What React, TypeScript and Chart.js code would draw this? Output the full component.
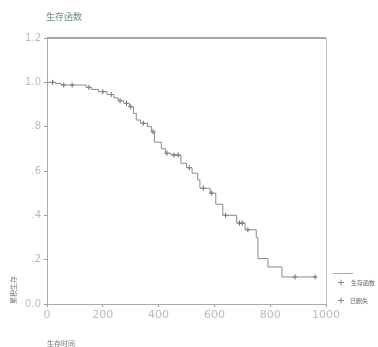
import React, { useEffect, useRef } from "react";
import { Chart, registerables } from "chart.js";

Chart.register(...registerables);

const eventTimes = [0, 30, 50, 140, 160, 185, 215, 240, 255, 275, 295, 310, 320, 335, 360, 375, 385, 410, 425, 445, 480, 500, 520, 540, 548, 585, 605, 630, 680, 710, 750, 756, 792, 842, 961];
const survival = [1.0, 0.995, 0.988, 0.977, 0.968, 0.958, 0.945, 0.93, 0.917, 0.905, 0.89, 0.86, 0.83, 0.815, 0.8, 0.777, 0.73, 0.7, 0.68, 0.672, 0.635, 0.615, 0.59, 0.56, 0.522, 0.5, 0.45, 0.4, 0.365, 0.335, 0.3, 0.205, 0.167, 0.122, 0.122];
const censorTimes = [20, 60, 90, 150, 200, 230, 262, 285, 300, 345, 380, 430, 455, 470, 510, 560, 590, 640, 690, 700, 720, 889, 961];

const yTickLabels: Record<string, string> = { "0": "0.0", "0.2": ".2", "0.4": ".4", "0.6": ".6", "0.8": ".8", "1": "1.0", "1.2": "1.2" };
const titleText = "生存函数";
const yTitle = "累积生存";
const xTitle = "生存时间";
const legendLine = "生存函数";
const legendCensor = "已删失";

function survAt(t: number): number {
  let s = survival[0];
  for (let i = 0; i < eventTimes.length; i++) {
    if (eventTimes[i] <= t) s = survival[i];
  }
  return s;
}

export default function App() {
  const ref = useRef<HTMLCanvasElement | null>(null);
  useEffect(() => {
    document.body.style.margin = "0";
    const ctx = ref.current!;
    const decor = {
      id: "decor",
      afterDraw(chart: any) {
        const c = chart.ctx;
        const a = chart.chartArea;
        c.save();
        c.strokeStyle = "#a8a8a8";
        c.lineWidth = 2;
        c.beginPath();
        c.moveTo(a.left, a.top);
        c.lineTo(a.right, a.top);
        c.stroke();
        c.lineWidth = 1;
        c.strokeStyle = "#c4c4c4";
        c.beginPath();
        c.moveTo(a.right + 0.5, a.top);
        c.lineTo(a.right + 0.5, a.bottom);
        c.stroke();
        c.fillStyle = "#6f8a78";
        c.font = "9px 'Noto Sans CJK SC'";
        c.textBaseline = "middle";
        c.textAlign = "left";
        c.fillText(titleText, 46, 17);
        c.fillStyle = "#777";
        c.font = "7px 'Noto Sans CJK SC'";
        c.save();
        c.translate(13, 290);
        c.rotate(-Math.PI / 2);
        c.textAlign = "center";
        c.fillText(yTitle, 0, 0);
        c.restore();
        c.textAlign = "left";
        c.fillText(xTitle, 47, 343);
        c.strokeStyle = "#aaa";
        c.lineWidth = 1;
        c.beginPath();
        c.moveTo(333, 273.5);
        c.lineTo(353, 273.5);
        c.stroke();
        c.strokeStyle = "#888";
        c.beginPath();
        c.moveTo(338, 282.5); c.lineTo(344, 282.5);
        c.moveTo(341, 279.5); c.lineTo(341, 285.5);
        c.moveTo(338, 300.5); c.lineTo(344, 300.5);
        c.moveTo(341, 297.5); c.lineTo(341, 303.5);
        c.stroke();
        c.fillStyle = "#666";
        c.font = "6px 'Noto Sans CJK SC'";
        c.fillText(legendLine, 351, 283);
        c.fillText(legendCensor, 350, 301);
        c.restore();
      },
    };
    const chart = new Chart(ctx, {
      type: "line",
      data: {
        datasets: [
          {
            data: eventTimes.map((t, i) => ({ x: t, y: survival[i] })),
            stepped: true,
            borderColor: "#8a8a8a",
            borderWidth: 1,
            pointRadius: 0,
            fill: false,
          },
          {
            type: "scatter",
            data: censorTimes.map((t) => ({ x: t, y: survAt(t) })),
            pointStyle: "cross",
            pointRadius: 2.5,
            borderColor: "#666",
            borderWidth: 1,
            showLine: false,
          } as any,
        ],
      },
      options: {
        animation: false,
        responsive: false,
        maintainAspectRatio: false,
        events: [],
        layout: { padding: { left: 0, top: 38, right: 52, bottom: 0 } },
        plugins: { legend: { display: false }, tooltip: { enabled: false }, title: { display: false } },
        scales: {
          x: {
            type: "linear",
            min: 0,
            max: 1000,
            afterFit: (s: any) => { s.height = 43; },
            ticks: {
              stepSize: 200,
              color: "#bbb",
              font: { size: 11, family: "'DejaVu Sans'" },
              padding: 2,
              maxRotation: 0,
              callback: (v: any) => String(v),
            },
            grid: { drawOnChartArea: false, tickLength: 3, color: "#999" },
            border: { color: "#aaa", width: 1 },
          },
          y: {
            type: "linear",
            min: 0,
            max: 1.2,
            afterFit: (s: any) => { s.width = 47; },
            ticks: {
              stepSize: 0.2,
              color: "#bbb",
              font: { size: 10, family: "'DejaVu Sans'" },
              padding: 3,
              callback: (v: any) => yTickLabels[String(Math.round(Number(v) * 10) / 10)] ?? "",
            },
            grid: { drawOnChartArea: false, tickLength: 3, color: "#999" },
            border: { color: "#aaa", width: 1 },
          },
        },
      },
      plugins: [decor],
    });
    return () => chart.destroy();
  }, []);
  return (
    <div style={{ position: "absolute", left: 0, top: 0, width: 378, height: 347, background: "#fff" }}>
      <canvas ref={ref} width={378} height={347} style={{ width: 378, height: 347 }} />
    </div>
  );
}
